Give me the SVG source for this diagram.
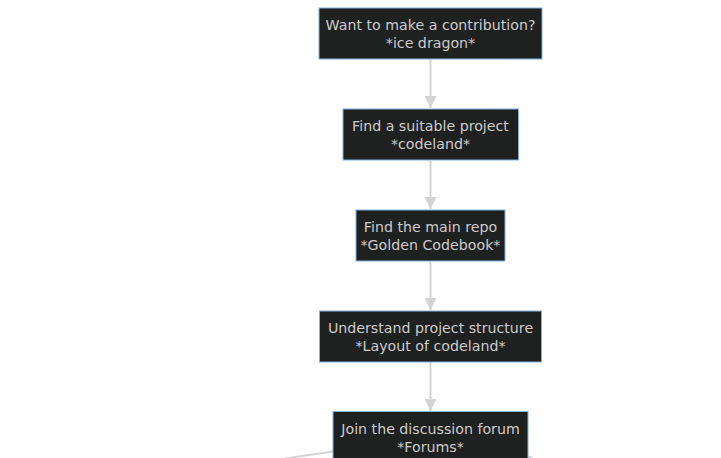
<svg xmlns="http://www.w3.org/2000/svg" width="721" height="458" viewBox="0 0 721 458">
<defs>
<marker id="arrow" viewBox="0 0 12 12" refX="12" refY="6" markerWidth="12" markerHeight="12" markerUnits="userSpaceOnUse" orient="auto">
<path d="M0,0 L12,6 L0,12 Z" fill="#d3d3d3"/>
</marker>
<style>
.node rect{fill:#1f2020;stroke:#81b1db;stroke-width:1}
.node text{fill:#cccccc;font-family:"DejaVu Sans",sans-serif;font-size:14.2px;text-anchor:middle}
.edge{stroke:#d3d3d3;stroke-width:2;fill:none}
</style>
</defs>
<rect width="721" height="458" fill="#ffffff"/>
<g id="connectors">
<path class="edge" d="M430.5,59.5 L430.5,108" marker-end="url(#arrow)"/>
<path class="edge" d="M430.5,160.5 L430.5,209" marker-end="url(#arrow)"/>
<path class="edge" d="M430.5,261.5 L430.5,310" marker-end="url(#arrow)"/>
<path class="edge" d="M430.5,362 L430.5,411" marker-end="url(#arrow)"/>
<path class="edge" d="M333,451.5 L285,458.5" stroke-width="1.5"/>
<path class="edge" d="M528,456.5 L533,458.5" stroke-width="1.5"/>
</g>
<g id="n1" class="node">
<rect x="319" y="8" width="223" height="51"/>
<text x="430.5" y="29.5">Want to make a contribution?</text>
<text x="430.5" y="47.5">*ice dragon*</text>
</g>
<g id="n2" class="node">
<rect x="343" y="109" width="175.5" height="51"/>
<text x="430.5" y="130.5">Find a suitable project</text>
<text x="430.5" y="148.5">*codeland*</text>
</g>
<g id="n3" class="node">
<rect x="356" y="210" width="149" height="51"/>
<text x="430.5" y="231.5">Find the main repo</text>
<text x="430.5" y="249.5">*Golden Codebook*</text>
</g>
<g id="n4" class="node">
<rect x="319.5" y="311" width="222" height="51"/>
<text x="430.5" y="332.5">Understand project structure</text>
<text x="430.5" y="350.5">*Layout of codeland*</text>
</g>
<g id="n5" class="node">
<rect x="333" y="411.5" width="195" height="51"/>
<text x="430.5" y="433.5">Join the discussion forum</text>
<text x="430.5" y="451.5">*Forums*</text>
</g>
</svg>
